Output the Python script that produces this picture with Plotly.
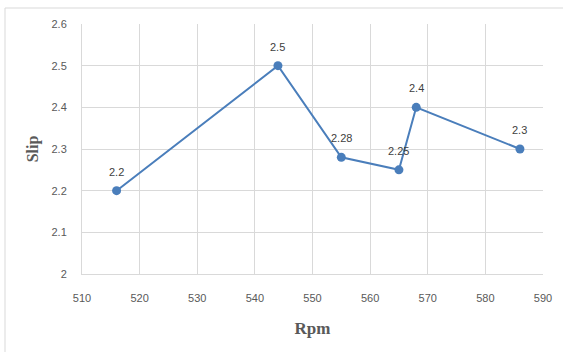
import plotly.graph_objects as go

rpm = [516, 544, 555, 565, 568, 586]
slip = [2.2, 2.5, 2.28, 2.25, 2.4, 2.3]
labels = ["2.2", "2.5", "2.28", "2.25", "2.4", "2.3"]

W, H = 563, 352
L, R, T, B = 82, 20, 24, 78
pw, ph = W - L - R, H - T - B

fig = go.Figure()
fig.add_trace(go.Scatter(
    x=rpm, y=slip, mode="lines+markers",
    line=dict(color="#4a7ebb", width=2),
    marker=dict(color="#4a7ebb", size=9),
    showlegend=False, hoverinfo="skip",
))
for xv, yv, t in zip(rpm, slip, labels):
    fig.add_annotation(x=xv, y=yv, text=t, showarrow=False, yshift=19,
                       font=dict(family="Liberation Sans", size=11, color="#404040"))

fig.add_shape(type="rect", xref="paper", yref="paper",
              x0=(5 - L) / pw, x1=1.2, y0=-0.5, y1=1 + (T - 8) / ph,
              line=dict(color="#d9d9d9", width=1), fillcolor="rgba(0,0,0,0)", layer="below")

fig.update_layout(
    width=W, height=H,
    margin=dict(l=L, r=R, t=T, b=B, autoexpand=False),
    paper_bgcolor="white", plot_bgcolor="white",
    font=dict(family="Liberation Sans", size=11, color="#595959"),
    xaxis=dict(range=[510, 590], dtick=10, tick0=510, showgrid=True, gridcolor="#d9d9d9",
               gridwidth=1, zeroline=False, showline=True, linecolor="#d9d9d9",
               ticks="", ticklabelstandoff=14, automargin=False,
               title=dict(text="<b>Rpm</b>", standoff=18,
                          font=dict(family="Liberation Serif", size=17, color="#595959"))),
    yaxis=dict(range=[2, 2.6], dtick=0.1, tick0=2, showgrid=True, gridcolor="#d9d9d9",
               gridwidth=1, zeroline=False, showline=True, linecolor="#d9d9d9",
               ticks="", ticklabelstandoff=12, automargin=False,
               title=dict(text="<b>Slip</b>", standoff=8,
                          font=dict(family="Liberation Serif", size=16, color="#595959"))),
)

fig.write_html("out.html", config={"displayModeBar": False},
               post_script="document.body.style.margin='0';")
